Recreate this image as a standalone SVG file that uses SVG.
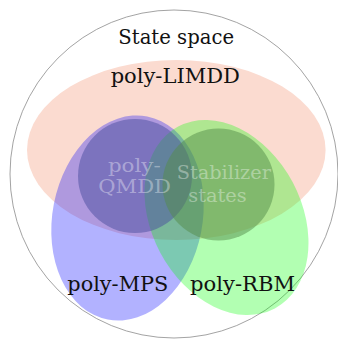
<svg xmlns="http://www.w3.org/2000/svg" width="338" height="339" viewBox="0 0 338 339">
  <style>
    text { font-family: 'DejaVu Serif', 'Liberation Serif', serif; }
    .lbl { font-size: 20px; fill: #111111; text-anchor: middle; }
    .faint { font-size: 18.5px; fill: #ffffff; fill-opacity: 0.37; }
  </style>
  <rect width="338" height="339" fill="#ffffff"/>
  <g id="state-space">
    <circle cx="174" cy="174" r="164" fill="none" stroke="#999999" stroke-width="0.9"/>
  </g>
  <g id="poly-limdd">
    <ellipse cx="176.3" cy="150" rx="149.3" ry="90" fill="#fbdbd0"/>
  </g>
  <g id="poly-mps">
    <ellipse cx="0" cy="0" rx="75" ry="103.5" fill="#0000ff" fill-opacity="0.3" transform="translate(127.5 218) rotate(11)"/>
  </g>
  <g id="poly-rbm">
    <ellipse cx="0" cy="0" rx="75" ry="103" fill="#00ff00" fill-opacity="0.3" transform="translate(226.5 217.5) rotate(-28)"/>
  </g>
  <g id="poly-qmdd">
    <circle cx="135" cy="176" r="57" fill="#4a4d9e" fill-opacity="0.5"/>
  </g>
  <g id="stabilizer-states">
    <circle cx="218.5" cy="184.5" r="56" fill="#548c4a" fill-opacity="0.5"/>
  </g>
  <g id="labels">
    <text class="lbl" x="176.2" y="44.3" textLength="115.7" lengthAdjust="spacingAndGlyphs">State space</text>
    <text class="lbl" x="175.3" y="82.7" textLength="129.3" lengthAdjust="spacingAndGlyphs">poly-LIMDD</text>
    <text class="lbl" x="117.8" y="290.7" textLength="101" lengthAdjust="spacingAndGlyphs">poly-MPS</text>
    <text class="lbl" x="242.5" y="290.7" textLength="105" lengthAdjust="spacingAndGlyphs">poly-RBM</text>
    <text class="lbl faint" x="134.3" y="171.7" textLength="52.7" lengthAdjust="spacingAndGlyphs">poly-</text>
    <text class="lbl faint" x="134.6" y="193.3" textLength="72.7" lengthAdjust="spacingAndGlyphs">QMDD</text>
    <text class="lbl faint" x="223.8" y="179.3" textLength="94.3" lengthAdjust="spacingAndGlyphs">Stabilizer</text>
    <text class="lbl faint" x="217.5" y="202.3" textLength="58.4" lengthAdjust="spacingAndGlyphs">states</text>
  </g>
</svg>
